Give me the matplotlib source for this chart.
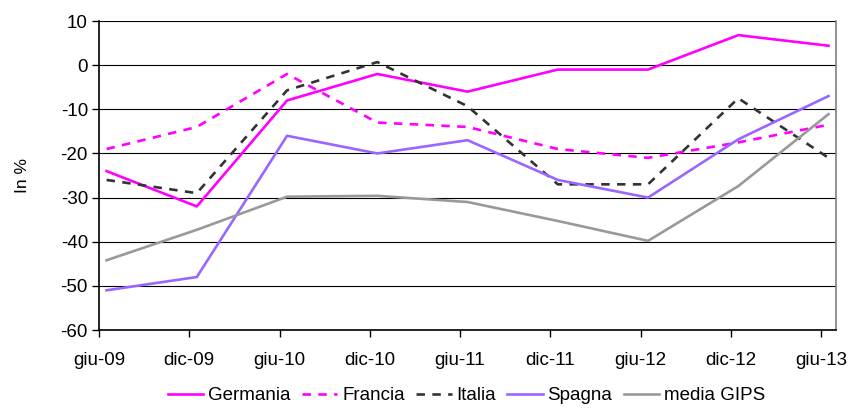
"""Italian chart: percentage series for Germania, Francia, Italia, Spagna and GIPS average."""

import matplotlib.pyplot as plt
import numpy as np

plt.rcParams["font.family"] = ["Liberation Sans", "DejaVu Sans"]
plt.rcParams["axes.unicode_minus"] = False

periods = ["giu-09", "dic-09", "giu-10", "dic-10", "giu-11",
           "dic-11", "giu-12", "dic-12", "giu-13"]
germania = [-24, -32, -8, -2, -6, -1, -1, 6.8, 4.4]
francia = [-19, -14, -2, -13, -14, -19, -21, -17.5, -13.5]
italia = [-26, -29, -5.7, 0.7, -9.3, -27, -27, -7.5, -21]
spagna = [-51, -48, -16, -20, -17, -26, -30, -16.8, -7]
media_gips = [-44.2, -37.3, -29.8, -29.6, -31, -35.3, -39.8, -27.4, -11.1]

# month positions: ticks at the start of each half-year, data at month end
tick_pos = np.arange(len(periods)) * 6
data_pos = tick_pos + 0.5

fig = plt.figure(figsize=(8.56, 4.12), dpi=100)
ax = fig.add_axes([0.1157, 0.199, 0.861, 0.750])

ax.set_ylim(-60, 10)
ax.set_xlim(0, 49)
ax.set_yticks(np.arange(-60, 11, 10))
ax.set_xticks(tick_pos)
ax.set_xticklabels(periods)
ax.yaxis.grid(True, color="black", linewidth=0.8)
ax.set_axisbelow(True)

lw = 1.9
ax.plot(data_pos, germania, color="#FF00FF", lw=lw, label="Germania")
ax.plot(data_pos, francia, color="#FF00FF", lw=lw, dashes=(3.2, 2.8), label="Francia")
ax.plot(data_pos, italia, color="#333333", lw=lw, dashes=(3.2, 2.8), label="Italia")
ax.plot(data_pos, spagna, color="#9966FF", lw=lw, label="Spagna")
ax.plot(data_pos, media_gips, color="#999999", lw=lw, label="media GIPS")

for side in ("left", "bottom"):
    ax.spines[side].set_color("black")
    ax.spines[side].set_linewidth(1.2)
ax.spines["top"].set_visible(False)
ax.spines["right"].set_color("#808080")
ax.spines["right"].set_linewidth(1.2)

ax.tick_params(axis="both", direction="out", length=5, width=1, labelsize=13.5,
               colors="black")
ax.tick_params(axis="x", pad=11)
ax.tick_params(axis="y", pad=3)

ax.set_ylabel("In %", fontsize=12.5, labelpad=22)

fig.legend(loc="lower center", bbox_to_anchor=(0.545, -0.022), ncol=5,
           frameon=False, fontsize=13.5, handlelength=1.9, handletextpad=0.25,
           columnspacing=0.6)

fig.savefig("out.png", dpi=100)
